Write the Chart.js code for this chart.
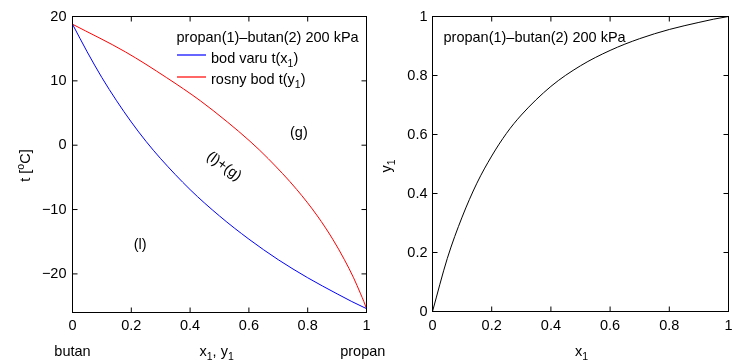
<!DOCTYPE html>
<html>
<head>
<meta charset="utf-8">
<script src="https://cdn.jsdelivr.net/npm/chart.js@4.4.1/dist/chart.umd.min.js"></script>
<style>
  html, body { margin: 0; padding: 0; background: #fff; }
  #wrap { position: relative; width: 739px; height: 362px; }
  #wrap canvas { position: absolute; left: 0; top: 0; }
</style>
</head>
<body>
<div id="wrap">
  <canvas id="left" width="739" height="362"></canvas>
  <canvas id="right" width="739" height="362"></canvas>
</div>
<script>
// --- data ---
const x1 = [0, 0.05, 0.1, 0.15, 0.2, 0.25, 0.3, 0.4, 0.5, 0.6, 0.7, 0.8, 0.9, 0.95, 1];
const tBub = [18.8, 14.5, 10.5, 6.9, 3.6, 0.6, -2.1, -6.9, -11.0, -14.6, -17.8, -20.6, -23.1, -24.3, -25.4];
const y1 = [0, 0.18, 0.32, 0.435, 0.527, 0.604, 0.666, 0.763, 0.833, 0.885, 0.925, 0.956, 0.98, 0.991, 1];
const tTicks = [-20, -10, 0, 10, 20];
const fracTicks = [0, 0.2, 0.4, 0.6, 0.8, 1];

const BLUE = '#0000ff';
const RED = '#ff0000';
const FAMILY = '"Liberation Sans", Arial, Helvetica, sans-serif';
const FONT = '14.5px ' + FAMILY;
const SMALL = '10.5px ' + FAMILY;

Chart.defaults.font.family = FAMILY;
Chart.defaults.font.size = 14.5;
Chart.defaults.color = '#000';

const fmtT = v => (v < 0 ? '\u2212' + Math.abs(v) : String(v));
const fmtFrac = v => String(+Number(v).toFixed(2));

// text with sub/superscripts: parts = [[text, shift]] shift: 0 normal, 1 sub, -1 sup
function rich(ctx, parts, x, y) {
  ctx.textAlign = 'left';
  ctx.textBaseline = 'alphabetic';
  let cx = x;
  parts.forEach(p => {
    ctx.font = p[1] ? SMALL : FONT;
    const dy = p[1] === 1 ? 4 : p[1] === -1 ? -6 : 0;
    ctx.fillText(p[0], cx, y + dy);
    cx += ctx.measureText(p[0]).width;
  });
  return cx - x;
}
function richWidth(ctx, parts) {
  let w = 0;
  parts.forEach(p => { ctx.font = p[1] ? SMALL : FONT; w += ctx.measureText(p[0]).width; });
  return w;
}
function vertical(ctx, parts, x, y) {
  ctx.save();
  ctx.translate(x, y);
  ctx.rotate(-Math.PI / 2);
  rich(ctx, parts, -richWidth(ctx, parts) / 2, 0);
  ctx.restore();
}

// box round the plot with ticks pointing inwards on all four sides
const frame = {
  id: 'frame',
  afterDatasetsDraw(chart) {
    const { ctx, chartArea: a, scales } = chart;
    const tl = 5;
    ctx.save();
    ctx.strokeStyle = '#000';
    ctx.lineWidth = 1;
    ctx.strokeRect(a.left, a.top, a.right - a.left, a.bottom - a.top);
    ctx.beginPath();
    scales.x.ticks.forEach(t => {
      const px = scales.x.getPixelForValue(t.value);
      ctx.moveTo(px, a.bottom); ctx.lineTo(px, a.bottom - tl);
      ctx.moveTo(px, a.top); ctx.lineTo(px, a.top + tl);
    });
    scales.y.ticks.forEach(t => {
      const py = scales.y.getPixelForValue(t.value);
      ctx.moveTo(a.left, py); ctx.lineTo(a.left + tl, py);
      ctx.moveTo(a.right, py); ctx.lineTo(a.right - tl, py);
    });
    ctx.stroke();
    ctx.restore();
  }
};

const leftDecor = {
  id: 'leftDecor',
  afterDraw(chart) {
    const { ctx, scales } = chart;
    const sx = scales.x, sy = scales.y;
    ctx.save();
    ctx.fillStyle = '#000';
    // legend
    ctx.font = FONT;
    ctx.textAlign = 'left';
    ctx.textBaseline = 'alphabetic';
    ctx.fillText('propan(1)\u2013butan(2) 200 kPa', 176.5, 41.7);
    ctx.lineWidth = 1.2;
    ctx.beginPath();
    ctx.strokeStyle = BLUE;
    ctx.moveTo(177, 55); ctx.lineTo(206, 55);
    ctx.stroke();
    ctx.beginPath();
    ctx.strokeStyle = RED;
    ctx.moveTo(177, 77); ctx.lineTo(206, 77);
    ctx.stroke();
    rich(ctx, [['bod varu t(x', 0], ['1', 1], [')', 0]], 211, 62.7);
    rich(ctx, [['rosny bod t(y', 0], ['1', 1], [')', 0]], 211, 84);

    // region labels
    ctx.font = FONT;
    ctx.textAlign = 'center';
    ctx.textBaseline = 'alphabetic';
    ctx.fillText('(g)', sx.getPixelForValue(0.77), sy.getPixelForValue(1.2));
    ctx.fillText('(l)', sx.getPixelForValue(0.23), sy.getPixelForValue(-16.1));
    ctx.save();
    ctx.translate(sx.getPixelForValue(0.515), sy.getPixelForValue(-3.3));
    ctx.rotate(36 * Math.PI / 180);
    ctx.textBaseline = 'middle';
    ctx.fillText('(l)+(g)', 0, 0);
    ctx.restore();

    // axis titles
    vertical(ctx, [['t [', 0], ['o', -1], ['C]', 0]], 29.5, 165.5);
    ctx.textAlign = 'center';
    ctx.font = FONT;
    ctx.fillText('butan', sx.getPixelForValue(0), 356);
    ctx.fillText('propan', 362.8, 356);
    rich(ctx, [['x', 0], ['1', 1], [', y', 0], ['1', 1]], 199.5, 356);
    ctx.restore();
  }
};

const rightDecor = {
  id: 'rightDecor',
  afterDraw(chart) {
    const { ctx } = chart;
    ctx.save();
    ctx.fillStyle = '#000';
    ctx.font = FONT;
    ctx.textAlign = 'left';
    ctx.textBaseline = 'alphabetic';
    ctx.fillText('propan(1)\u2013butan(2) 200 kPa', 443.5, 41.7);
    vertical(ctx, [['y', 0], ['1', 1]], 390.5, 166);
    rich(ctx, [['x', 0], ['1', 1]], 575, 356);
    ctx.restore();
  }
};

function fracAxis(extra) {
  return Object.assign({
    type: 'linear', min: 0, max: 1,
    grid: { display: false, drawTicks: false },
    border: { display: false },
    afterBuildTicks: s => { s.ticks = fracTicks.map(v => ({ value: v })); }
  }, extra);
}

const lineStyle = { borderWidth: 1, pointRadius: 0, cubicInterpolationMode: 'monotone', fill: false };

// left: t-x-y diagram
new Chart(document.getElementById('left'), {
  type: 'line',
  data: {
    datasets: [
      Object.assign({ label: 'bod varu t(x1)', borderColor: BLUE,
        data: x1.map((v, i) => ({ x: v, y: tBub[i] })) }, lineStyle),
      Object.assign({ label: 'rosny bod t(y1)', borderColor: RED,
        data: y1.map((v, i) => ({ x: v, y: tBub[i] })) }, lineStyle)
    ]
  },
  options: {
    responsive: false, animation: false, events: [],
    layout: { padding: { left: 0, top: 16.5, right: 739 - 366.5, bottom: 0 } },
    plugins: { legend: { display: false }, tooltip: { enabled: false } },
    scales: {
      x: fracAxis({ ticks: { color: '#000', padding: 5, callback: fmtFrac },
        afterFit: s => { s.height = 362 - 312.5; } }),
      y: {
        type: 'linear', min: -26, max: 20,
        grid: { display: false, drawTicks: false },
        border: { display: false },
        ticks: { color: '#000', padding: 6, callback: fmtT },
        afterBuildTicks: s => { s.ticks = tTicks.map(v => ({ value: v })); },
        afterFit: s => { s.width = 72.5; }
      }
    }
  },
  plugins: [frame, leftDecor]
});

// right: y-x diagram
new Chart(document.getElementById('right'), {
  type: 'line',
  data: {
    datasets: [
      Object.assign({ label: 'y1(x1)', borderColor: '#000000',
        data: x1.map((v, i) => ({ x: v, y: y1[i] })) }, lineStyle)
    ]
  },
  options: {
    responsive: false, animation: false, events: [],
    layout: { padding: { left: 372.5, top: 16.5, right: 739 - 728.5, bottom: 0 } },
    plugins: { legend: { display: false }, tooltip: { enabled: false } },
    scales: {
      x: fracAxis({ ticks: { color: '#000', padding: 6, callback: fmtFrac },
        afterFit: s => { s.height = 362 - 311.5; } }),
      y: fracAxis({ ticks: { color: '#000', padding: 5, callback: fmtFrac },
        afterFit: s => { s.width = 60; } })
    }
  },
  plugins: [frame, rightDecor]
});
</script>
</body>
</html>
